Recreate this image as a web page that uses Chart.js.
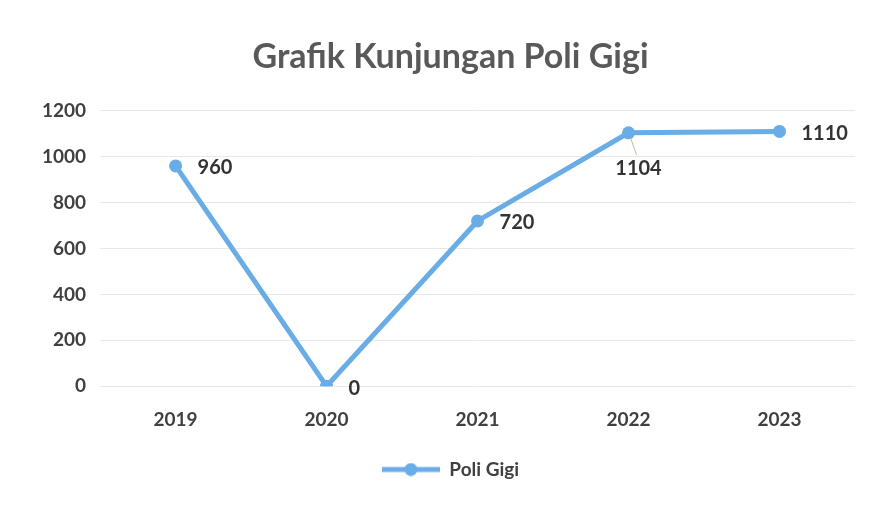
<!DOCTYPE html>
<html>
<head>
<meta charset="utf-8">
<script src="https://cdn.jsdelivr.net/npm/chart.js@4.4.0/dist/chart.umd.min.js"></script>
<style>
	html, body { margin: 0; padding: 0; background: #fff; }
	#wrap { width: 873px; height: 506px; }
</style>
</head>
<body>
<div id="wrap"><canvas id="chart" width="873" height="506"></canvas></div>
<script>
const years = ['2019', '2020', '2021', '2022', '2023'];
const visits = [960, 0, 720, 1104, 1110];
const yTicks = [0, 200, 400, 600, 800, 1000, 1200];

const lineColor = '#6aace6';
const font = 'Lato, "Noto Sans", sans-serif';

// where each value label sits relative to its point
const labelSide = ['right', 'right', 'right', 'below', 'right'];

function legendMarker() {
	const c = document.createElement('canvas');
	c.width = 58;
	c.height = 14;
	const ctx = c.getContext('2d');
	ctx.strokeStyle = lineColor;
	ctx.lineWidth = 5;
	ctx.beginPath();
	ctx.moveTo(0, 7);
	ctx.lineTo(58, 7);
	ctx.stroke();
	ctx.fillStyle = lineColor;
	ctx.beginPath();
	ctx.arc(29, 7, 6.5, 0, Math.PI * 2);
	ctx.fill();
	return c;
}

const valueLabels = {
	id: 'valueLabels',
	afterDatasetsDraw(chart) {
		const ctx = chart.ctx;
		const meta = chart.getDatasetMeta(0);
		ctx.save();
		ctx.font = 'bold 20px ' + font;
		ctx.fillStyle = '#333333';
		meta.data.forEach((pt, i) => {
			const text = String(visits[i]);
			if (labelSide[i] === 'below') {
				ctx.textAlign = 'center';
				ctx.textBaseline = 'top';
				ctx.fillText(text, pt.x + 10, pt.y + 26);
				ctx.strokeStyle = '#c8b89a';
				ctx.lineWidth = 1;
				ctx.beginPath();
				ctx.moveTo(pt.x + 2, pt.y + 5);
				ctx.lineTo(pt.x + 8, pt.y + 22);
				ctx.stroke();
			} else {
				ctx.textAlign = 'left';
				ctx.textBaseline = 'middle';
				ctx.fillText(text, pt.x + 22, pt.y + 2);
			}
		});
		ctx.restore();
	},
};

new Chart(document.getElementById('chart'), {
	type: 'line',
	data: {
		labels: years,
		datasets: [
			{
				label: 'Poli Gigi',
				data: visits,
				borderColor: lineColor,
				backgroundColor: lineColor,
				borderWidth: 5,
				pointRadius: 6.5,
				pointHoverRadius: 6.5,
				pointBackgroundColor: lineColor,
				pointBorderWidth: 0,
				tension: 0,
			},
		],
	},
	options: {
		responsive: false,
		animation: false,
		devicePixelRatio: 1,
		layout: { padding: { left: 28, right: 0, top: 0, bottom: 17 } },
		plugins: {
			title: {
				display: true,
				text: 'Grafik Kunjungan Poli Gigi',
				color: '#595959',
				font: { family: font, size: 34, weight: 'bold' },
				padding: { top: 37, bottom: 33 },
			},
			legend: {
				position: 'bottom',
				labels: {
					color: '#404040',
					font: { family: font, size: 19, weight: 'bold' },
					usePointStyle: true,
					pointStyleWidth: 58,
					padding: 15,
					generateLabels: (chart) => [
						{
							text: chart.data.datasets[0].label,
							pointStyle: legendMarker(),
							fillStyle: lineColor,
							strokeStyle: lineColor,
							lineWidth: 0,
							fontColor: '#404040',
							datasetIndex: 0,
						},
					],
				},
			},
			tooltip: { enabled: false },
		},
		scales: {
			x: {
				offset: true,
				grid: { display: false },
				border: { display: false },
				ticks: {
					color: '#404040',
					font: { family: font, size: 19, weight: 'bold' },
					padding: 14,
				},
			},
			y: {
				min: 0,
				max: 1200,
				afterBuildTicks: (axis) => {
					axis.ticks = yTicks.map((v) => ({ value: v }));
				},
				grid: { color: '#e8e8e8', lineWidth: 1, drawTicks: false },
				border: { display: false },
				ticks: {
					color: '#404040',
					font: { family: font, size: 19, weight: 'bold' },
					padding: 14,
					callback: (v) => String(v),
				},
			},
			// empty right gutter so the plot ends where the reference's does
			gutter: {
				type: 'linear',
				position: 'right',
				grid: { display: false },
				border: { display: false },
				ticks: { display: false },
				afterFit: (axis) => {
					axis.width = 18;
				},
			},
		},
	},
	plugins: [valueLabels],
});
</script>
</body>
</html>
